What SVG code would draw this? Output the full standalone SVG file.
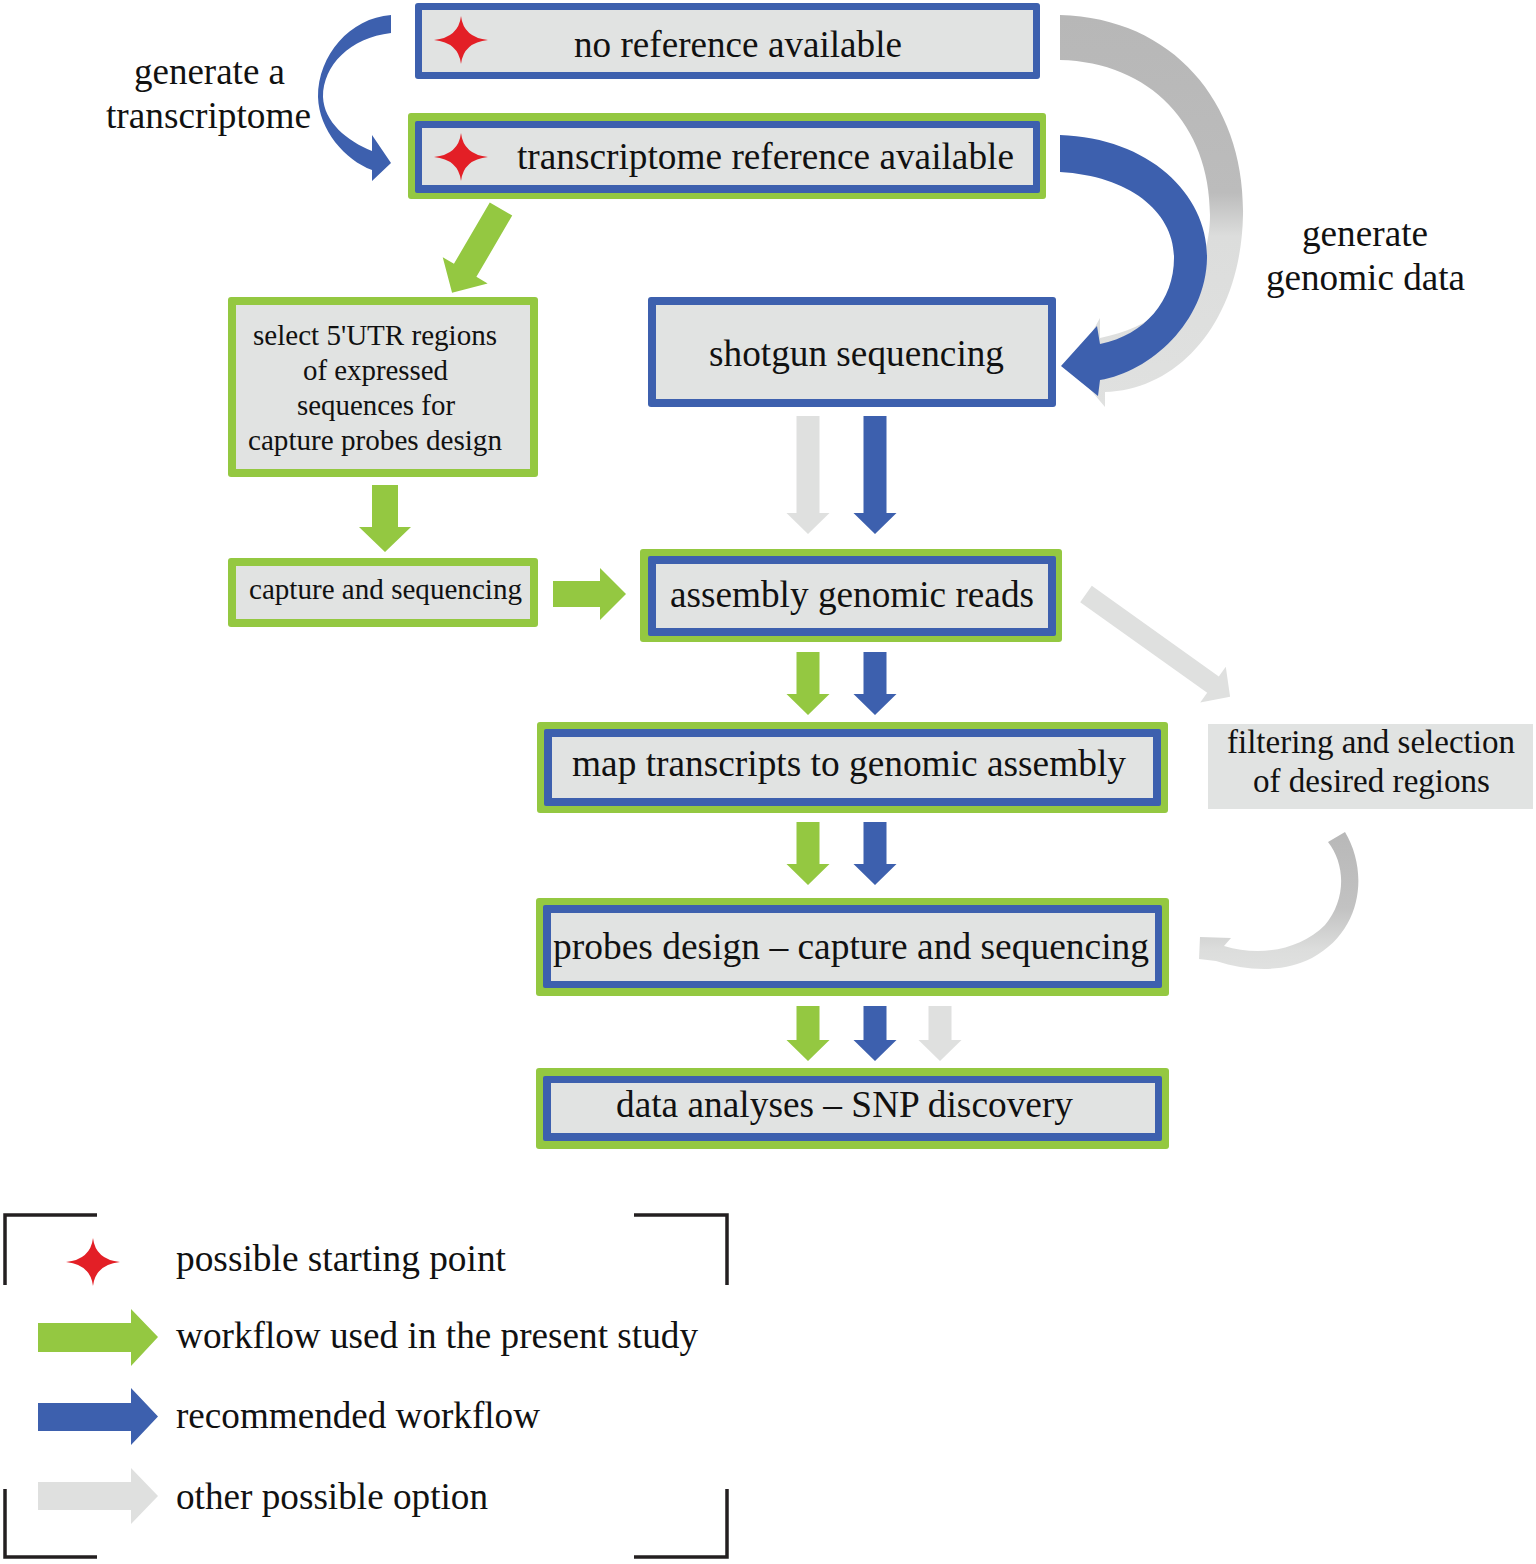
<svg xmlns="http://www.w3.org/2000/svg" xmlns:xlink="http://www.w3.org/1999/xlink" width="1536" height="1564" viewBox="0 0 1536 1564">
<style>
.t{font-family:"Liberation Serif","Times New Roman",serif;fill:#111;}
.f37{font-size:37px;}
.f33{font-size:33px;}
.f29{font-size:29px;}
.g{fill:#94c841;}
.b{fill:#3d60ae;}
.in{fill:#e1e3e2;}
.lg{fill:#dfe0df;}
.red{fill:#e31f26;}
.brk{fill:none;stroke:#231f20;stroke-width:3.5;}
</style>
<defs>
<path id="star" d="M0,-24 Q2.5,-2.5 27,0 Q2.5,2.5 0,24 Q-2.5,2.5 -27,0 Q-2.5,-2.5 0,-24 Z"/>
<linearGradient id="gBig" gradientUnits="userSpaceOnUse" x1="0" y1="15" x2="0" y2="410">
<stop offset="0" stop-color="#b7b7b7"/>
<stop offset="0.45" stop-color="#bcbcbc"/>
<stop offset="0.56" stop-color="#dcdddc"/>
<stop offset="1" stop-color="#e0e1e0"/>
</linearGradient>
<linearGradient id="gSmall" gradientUnits="userSpaceOnUse" x1="0" y1="832" x2="0" y2="970">
<stop offset="0" stop-color="#b8b8b8"/>
<stop offset="0.55" stop-color="#c2c2c2"/>
<stop offset="0.85" stop-color="#dcdddc"/>
<stop offset="1" stop-color="#e0e1e0"/>
</linearGradient>
</defs>
<rect width="1536" height="1564" fill="#ffffff"/>

<g id="connectors">
<!-- generate a transcriptome -->
<path class="b" d="M391,15 C350,18 318,55 318,97 C319,130 345,160 372,170 L372,181 L391,163 L372,135 L372,151 C347,141 324,122 323,97 C323,65 350,38 391,33 Z"/>
<!-- grey big curved -->
<path fill="url(#gBig)" d="M1060,15 C1175,18 1245,105 1243,215 C1241,320 1180,390 1105,392 L1105,407 L1072,368 L1100,318 L1100,338 C1165,325 1210,280 1210,215 C1210,125 1150,62 1060,60 Z"/>
<!-- blue big curved -->
<path class="b" d="M1060,135 C1150,138 1208,195 1207,258 C1206,322 1150,372 1100,380 L1098,396 L1061,366 L1097,326 L1100,344 C1145,335 1174,300 1174,258 C1174,212 1130,176 1060,172 Z"/>
<!-- green diagonal -->
<path class="g" transform="translate(501,209) rotate(120.3)" d="M0,-13 H71 V-26 L97,0 L71,26 V13 H0 Z"/>
<!-- green down under select -->
<path class="g" d="M372,485 H398 V527 H411 L385,552 L359,527 H372 Z"/>
<!-- green right to assembly -->
<path class="g" d="M553,581 H600 V568 L626,594 L600,620 V607 H553 Z"/>
<!-- shotgun to assembly -->
<path class="lg" d="M796.5,416 H819.5 V513 H829.5 L808,534 L786.5,513 H796.5 Z"/>
<path class="b" d="M863.5,416 H886.5 V513 H896.5 L875,534 L853.5,513 H863.5 Z"/>
<!-- assembly to map -->
<path class="g" d="M796.5,652 H819.5 V694 H829.5 L808,715 L786.5,694 H796.5 Z"/>
<path class="b" d="M863.5,652 H886.5 V694 H896.5 L875,715 L853.5,694 H863.5 Z"/>
<!-- map to probes -->
<path class="g" d="M796.5,822 H819.5 V864 H829.5 L808,885 L786.5,864 H796.5 Z"/>
<path class="b" d="M863.5,822 H886.5 V864 H896.5 L875,885 L853.5,864 H863.5 Z"/>
<!-- probes to data -->
<path class="g" d="M796.5,1006 H819.5 V1040 H829.5 L808,1061 L786.5,1040 H796.5 Z"/>
<path class="b" d="M863.5,1006 H886.5 V1040 H896.5 L875,1061 L853.5,1040 H863.5 Z"/>
<path class="lg" d="M928.5,1006 H951.5 V1040 H961.5 L940,1061 L918.5,1040 H928.5 Z"/>
<!-- assembly to filtering -->
<path class="lg" transform="translate(1086,594) rotate(35.5)" d="M0,-10 H156 V-22 L177,0 L156,22 V10 H0 Z"/>
<!-- filtering to probes -->
<path fill="url(#gSmall)" d="M1345,832 C1368,870 1364,930 1312,958 C1285,972 1250,972 1216,961 L1199,959 L1200,937 L1231,938 L1224,946 C1260,957 1300,950 1325,925 C1346,900 1346,865 1328,842 Z"/>
</g>

<g id="node-no-reference">
<rect class="b" x="415" y="3" width="625" height="76" rx="3"/>
<rect class="in" x="422" y="10" width="611" height="62"/>
<use xlink:href="#star" href="#star" class="red" x="461" y="40"/>
<text class="t f37" x="574" y="57" textLength="328" lengthAdjust="spacingAndGlyphs">no reference available</text>
</g>

<g id="node-transcriptome-reference">
<rect class="g" x="408" y="113" width="638" height="86" rx="3"/>
<rect class="b" x="415" y="121" width="625" height="72" rx="2"/>
<rect class="in" x="422" y="128" width="611" height="57"/>
<use xlink:href="#star" href="#star" class="red" x="461" y="157"/>
<text class="t f37" x="517" y="169" textLength="497" lengthAdjust="spacingAndGlyphs">transcriptome reference available</text>
</g>

<g id="label-generate-transcriptome">
<text class="t f37" x="134" y="84" textLength="151" lengthAdjust="spacingAndGlyphs">generate a</text>
<text class="t f37" x="106" y="128" textLength="205" lengthAdjust="spacingAndGlyphs">transcriptome</text>
</g>

<g id="label-generate-genomic">
<text class="t f37" x="1302" y="246" textLength="126" lengthAdjust="spacingAndGlyphs">generate</text>
<text class="t f37" x="1266" y="290" textLength="199" lengthAdjust="spacingAndGlyphs">genomic data</text>
</g>

<g id="node-select-utr">
<rect class="g" x="228" y="297" width="310" height="180" rx="3"/>
<rect class="in" x="236" y="305" width="294" height="164"/>
<text class="t f29" x="253" y="345" textLength="244" lengthAdjust="spacingAndGlyphs">select 5'UTR regions</text>
<text class="t f29" x="303" y="380" textLength="145" lengthAdjust="spacingAndGlyphs">of expressed</text>
<text class="t f29" x="297" y="415" textLength="158" lengthAdjust="spacingAndGlyphs">sequences for</text>
<text class="t f29" x="248" y="450" textLength="254" lengthAdjust="spacingAndGlyphs">capture probes design</text>
</g>

<g id="node-shotgun">
<rect class="b" x="648" y="297" width="408" height="110" rx="3"/>
<rect class="in" x="656" y="305" width="392" height="94"/>
<text class="t f37" x="709" y="366" textLength="295" lengthAdjust="spacingAndGlyphs">shotgun sequencing</text>
</g>

<g id="node-capture">
<rect class="g" x="228" y="558" width="310" height="69" rx="3"/>
<rect class="in" x="236" y="566" width="294" height="53"/>
<text class="t f29" x="249" y="599" textLength="273" lengthAdjust="spacingAndGlyphs">capture and sequencing</text>
</g>

<g id="node-assembly">
<rect class="g" x="640" y="549" width="422" height="93" rx="3"/>
<rect class="b" x="648" y="556" width="408" height="80" rx="2"/>
<rect class="in" x="656" y="564" width="392" height="64"/>
<text class="t f37" x="670" y="607" textLength="364" lengthAdjust="spacingAndGlyphs">assembly genomic reads</text>
</g>

<g id="node-filtering">
<rect class="in" x="1208" y="724" width="325" height="85"/>
<text class="t f33" x="1227" y="753" textLength="288" lengthAdjust="spacingAndGlyphs">filtering and selection</text>
<text class="t f33" x="1253" y="792" textLength="237" lengthAdjust="spacingAndGlyphs">of desired regions</text>
</g>

<g id="node-map">
<rect class="g" x="537" y="722" width="631" height="91" rx="3"/>
<rect class="b" x="544" y="729" width="617" height="77" rx="2"/>
<rect class="in" x="552" y="737" width="601" height="61"/>
<text class="t f37" x="572" y="776" textLength="554" lengthAdjust="spacingAndGlyphs">map transcripts to genomic assembly</text>
</g>

<g id="node-probes">
<rect class="g" x="536" y="898" width="633" height="98" rx="3"/>
<rect class="b" x="543" y="905" width="619" height="83" rx="2"/>
<rect class="in" x="551" y="913" width="604" height="68"/>
<text class="t f37" x="553" y="959" textLength="596" lengthAdjust="spacingAndGlyphs">probes design – capture and sequencing</text>
</g>

<g id="node-data">
<rect class="g" x="536" y="1068" width="633" height="81" rx="3"/>
<rect class="b" x="543" y="1076" width="619" height="65" rx="2"/>
<rect class="in" x="551" y="1083" width="604" height="50"/>
<text class="t f37" x="616" y="1117" textLength="457" lengthAdjust="spacingAndGlyphs">data analyses – SNP discovery</text>
</g>

<g id="legend">
<path class="brk" d="M5,1285 V1215 H97"/>
<path class="brk" d="M634,1215 H727 V1285"/>
<path class="brk" d="M5,1489 V1557 H97"/>
<path class="brk" d="M634,1557 H727 V1489"/>
<use xlink:href="#star" href="#star" class="red" x="93" y="1262"/>
<text class="t f37" x="176" y="1271" textLength="330" lengthAdjust="spacingAndGlyphs">possible starting point</text>
<path class="g" d="M38,1323 H131 V1309 L158,1337 L131,1366 V1352 H38 Z"/>
<text class="t f37" x="176" y="1348" textLength="522" lengthAdjust="spacingAndGlyphs">workflow used in the present study</text>
<path class="b" d="M38,1403 H131 V1388 L158,1416.5 L131,1445 V1431 H38 Z"/>
<text class="t f37" x="176" y="1428" textLength="364" lengthAdjust="spacingAndGlyphs">recommended workflow</text>
<path class="lg" d="M38,1482 H131 V1468 L158,1496 L131,1524 V1510 H38 Z"/>
<text class="t f37" x="176" y="1509" textLength="312" lengthAdjust="spacingAndGlyphs">other possible option</text>
</g>
</svg>
